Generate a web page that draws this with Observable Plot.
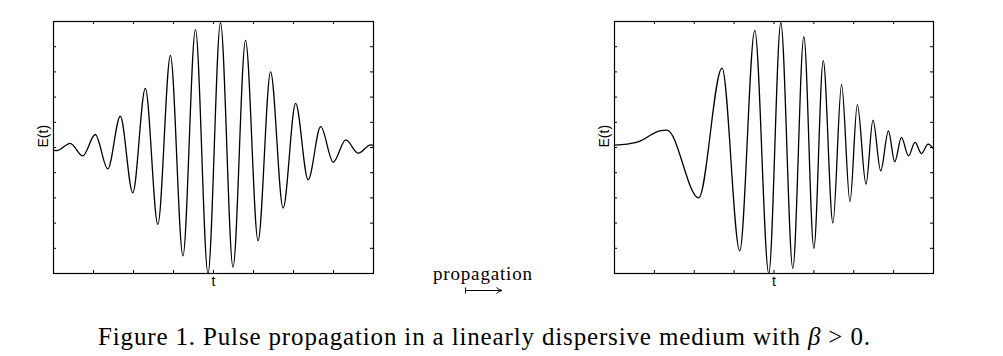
<!DOCTYPE html>
<html>
<head>
<meta charset="utf-8">
<script src="https://cdn.jsdelivr.net/npm/d3@7"></script>
<script src="https://cdn.jsdelivr.net/npm/@observablehq/plot@0.6"></script>
<style>
  html, body { margin: 0; padding: 0; background: #fff; }
  #wrap { position: relative; width: 1003px; height: 356px; overflow: hidden; background: #fff; }
  #wrap > svg, #wrap > div { position: absolute; }
</style>
</head>
<body>
<div id="wrap"></div>
<script>
// ---- data ----
const xTicks = [1, 2, 3, 4, 5, 6, 7];
const yTicks = [-0.8, -0.6, -0.4, -0.2, 0, 0.2, 0.4, 0.6, 0.8];
const yLabel = "E(t)";
const xLabel = "t";

// input pulse (left panel): extrema of the oscillation
const leftT = [0, 0.08, 0.418, 0.731, 1.044, 1.357, 1.670, 1.983, 2.296, 2.609, 2.923, 3.236, 3.549, 3.862,
  4.175, 4.488, 4.801, 5.114, 5.427, 5.740, 6.053, 6.366, 6.680, 6.993, 7.306, 7.619, 7.93, 8];
const leftE = [-0.02, -0.025, 0.033, -0.067, 0.103, -0.17, 0.248, -0.36, 0.47, -0.61, 0.73, -0.86, 0.935, -1.0,
  0.99, -0.95, 0.85, -0.74, 0.60, -0.48, 0.35, -0.256, 0.165, -0.117, 0.06, -0.045, 0.021, 0.015];

// dispersed pulse (right panel)
const rightT = [0, 0.31, 0.64, 0.9, 1.105, 1.317, 2.111, 2.697, 3.141, 3.518, 3.869, 4.171, 4.472, 4.749, 5.000,
  5.235, 5.477, 5.695, 5.905, 6.090, 6.307, 6.482, 6.676, 6.869, 7.028, 7.196, 7.372, 7.538, 7.698, 7.864, 8];
const rightE = [0.019, 0.027, 0.05, 0.097, 0.13, 0.138, -0.40, 0.63, -0.82, 0.93, -1.0, 0.99, -0.96, 0.88, -0.80,
  0.69, -0.60, 0.50, -0.43, 0.34, -0.29, 0.217, -0.185, 0.132, -0.113, 0.08, -0.066, 0.04, -0.048, 0.027, -0.01];

const propagationLabel = "propagation";
const captionText = "Figure 1. Pulse propagation in a linearly dispersive medium with ";

// ---- drawing ----
const wrap = document.getElementById("wrap");
const W = 400, H = 300, mL = 53, mT = 21, mB = 27, tickLen = 3;

function panel(T, E, frameW) {
  const data = T.map((t, i) => ({t, e: E[i]}));
  const fw = frameW, fh = H - mT - mB;
  return Plot.plot({
    width: W, height: H,
    marginLeft: mL, marginRight: W - mL - fw, marginTop: mT, marginBottom: mB,
    x: {domain: [0, 8], axis: null},
    y: {domain: [-1, 1], axis: null},
    style: {background: "transparent", fontFamily: "'Liberation Sans', Arial, sans-serif"},
    marks: [
      // inward ticks on all four sides
      Plot.ruleX(xTicks, {x: d => d, insetTop: fh - tickLen, stroke: "#000", strokeWidth: 1}),
      Plot.ruleX(xTicks, {x: d => d, insetBottom: fh - tickLen, stroke: "#000", strokeWidth: 1}),
      Plot.ruleY(yTicks, {y: d => d, insetRight: fw - tickLen, stroke: "#000", strokeWidth: 1}),
      Plot.ruleY(yTicks, {y: d => d, insetLeft: fw - tickLen, stroke: "#000", strokeWidth: 1}),
      Plot.line(data, {x: "t", y: "e", curve: "monotone-x", stroke: "#000", strokeWidth: 1.3}),
      Plot.frame({stroke: "#000", strokeWidth: 1.2}),
      Plot.text([yLabel], {text: d => d, frameAnchor: "left", dx: -10, rotate: -90, fontSize: 14, fill: "#000"}),
      Plot.text([xLabel], {text: d => d, frameAnchor: "bottom", dy: 12, fontSize: 14, fill: "#000"})
    ]
  });
}

const p1 = panel(leftT, leftE, 320);
p1.style.left = "0px"; p1.style.top = "0px";
wrap.appendChild(p1);

const p2 = panel(rightT, rightE, 319);
p2.style.left = "561px"; p2.style.top = "0px";
wrap.appendChild(p2);

// annotation layer: propagation arrow and caption
const ns = "http://www.w3.org/2000/svg";
const ann = document.createElementNS(ns, "svg");
ann.setAttribute("width", 1003); ann.setAttribute("height", 356);
ann.style.left = "0px"; ann.style.top = "0px";
ann.innerHTML = `
  <text x="433" y="280" font-family="Liberation Serif, serif" font-size="19" fill="#000" textLength="99" lengthAdjust="spacing">${propagationLabel}</text>
  <line x1="465.5" y1="287.5" x2="465.5" y2="293.5" stroke="#000" stroke-width="1"/>
  <line x1="465.5" y1="290.5" x2="501" y2="290.5" stroke="#000" stroke-width="1"/>
  <path d="M496.5,287.5 Q499,290 502,290.5 Q499,291 496.5,293.5" fill="none" stroke="#000" stroke-width="1"/>
  <text id="cap" x="98" y="345" font-family="Liberation Serif, serif" font-size="25" fill="#000" textLength="772" lengthAdjust="spacing">${captionText}<tspan font-style="italic">β</tspan> &gt; 0.</text>
`;
wrap.appendChild(ann);
</script>
</body>
</html>
